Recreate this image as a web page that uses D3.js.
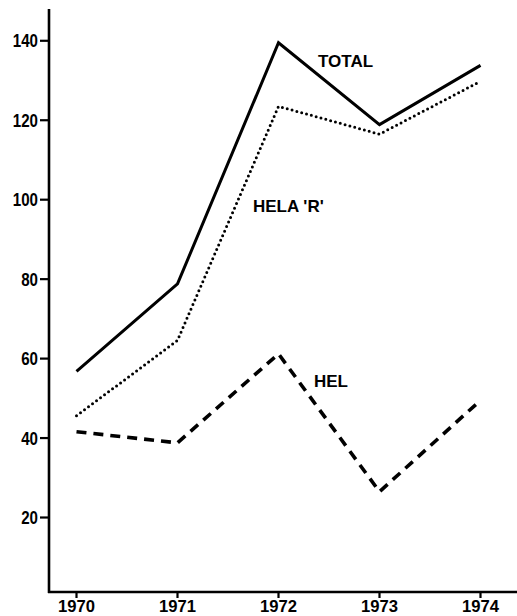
<!DOCTYPE html>
<html>
<head>
<meta charset="utf-8">
<script src="https://cdn.jsdelivr.net/npm/d3@7"></script>
<style>
  body { margin: 0; background: #fff; }
  .tick-label { font-family: "Liberation Sans", Arial, sans-serif; font-weight: bold; font-size: 18px; }
  .series-label { font-family: "Liberation Sans", Arial, sans-serif; font-weight: bold; font-size: 17px; }
</style>
</head>
<body>
<svg width="517" height="616"></svg>
<script>
// data
const years = [1970, 1971, 1972, 1973, 1974];
const total = [56.8, 78.8, 139.5, 118.9, 133.8];
const helaR = [45.6, 64.6, 123.5, 116.5, 129.8];
const hel = [41.6, 38.8, 61.2, 26.5, 49.5];
const yTicks = [20, 40, 60, 80, 100, 120, 140];

const series = [
  { name: "TOTAL", values: total, dash: null, width: 3, cap: "butt", lx: 318, ly: 66.5 },
  { name: "HELA 'R'", values: helaR, dash: "0 5", width: 3, cap: "round", lx: 253, ly: 211.5 },
  { name: "HEL", values: hel, dash: "10 7", width: 3.6, cap: "butt", lx: 314, ly: 387 }
];

const svg = d3.select("svg");

const x = d3.scaleLinear().domain([1970, 1974]).range([76.5, 480.5]);
const y = d3.scaleLinear().domain([1.25, 148]).range([592, 9]);

const axisX = 49;
const axisY = y(1.25);

// y axis
svg.append("line")
  .attr("x1", axisX).attr("x2", axisX)
  .attr("y1", y(148)).attr("y2", axisY + 1)
  .attr("stroke", "#000").attr("stroke-width", 2.6);

svg.selectAll(".ytick")
  .data(yTicks)
  .enter()
  .append("line")
  .attr("class", "ytick")
  .attr("x1", axisX - 9).attr("x2", axisX)
  .attr("y1", function(d) { return y(d); })
  .attr("y2", function(d) { return y(d); })
  .attr("stroke", "#000").attr("stroke-width", 2.2);

// old typewriter-ish numerals are narrow, so squeeze them
svg.selectAll(".ylab")
  .data(yTicks)
  .enter()
  .append("text")
  .attr("class", "tick-label ylab")
  .attr("x", axisX - 11)
  .attr("y", function(d) { return y(d) + 6.5; })
  .attr("text-anchor", "end")
  .attr("textLength", function(d) { return String(d).length * 8.4; })
  .attr("lengthAdjust", "spacingAndGlyphs")
  .text(function(d) { return d; });

// x axis
svg.append("line")
  .attr("x1", axisX - 1).attr("x2", 517)
  .attr("y1", axisY).attr("y2", axisY)
  .attr("stroke", "#000").attr("stroke-width", 2.6);

svg.selectAll(".xtick")
  .data(years)
  .enter()
  .append("line")
  .attr("class", "xtick")
  .attr("x1", function(d) { return x(d); })
  .attr("x2", function(d) { return x(d); })
  .attr("y1", axisY).attr("y2", axisY + 6)
  .attr("stroke", "#000").attr("stroke-width", 2.2);

svg.selectAll(".xlab")
  .data(years)
  .enter()
  .append("text")
  .attr("class", "tick-label xlab")
  .attr("x", function(d) { return x(d); })
  .attr("y", 612)
  .attr("text-anchor", "middle")
  .attr("textLength", 37)
  .attr("lengthAdjust", "spacingAndGlyphs")
  .style("font-size", "17px")
  .text(function(d) { return d; });

// lines
const line = d3.line()
  .x(function(d, i) { return x(years[i]); })
  .y(function(d) { return y(d); });

series.forEach(function(s) {
  svg.append("path")
    .datum(s.values)
    .attr("d", line)
    .attr("fill", "none")
    .attr("stroke", "#000")
    .attr("stroke-width", s.width)
    .attr("stroke-linecap", s.cap)
    .attr("stroke-linejoin", "miter")
    .attr("stroke-dasharray", s.dash);

  svg.append("text")
    .attr("class", "series-label")
    .attr("x", s.lx)
    .attr("y", s.ly)
    .text(s.name);
});
</script>
</body>
</html>
